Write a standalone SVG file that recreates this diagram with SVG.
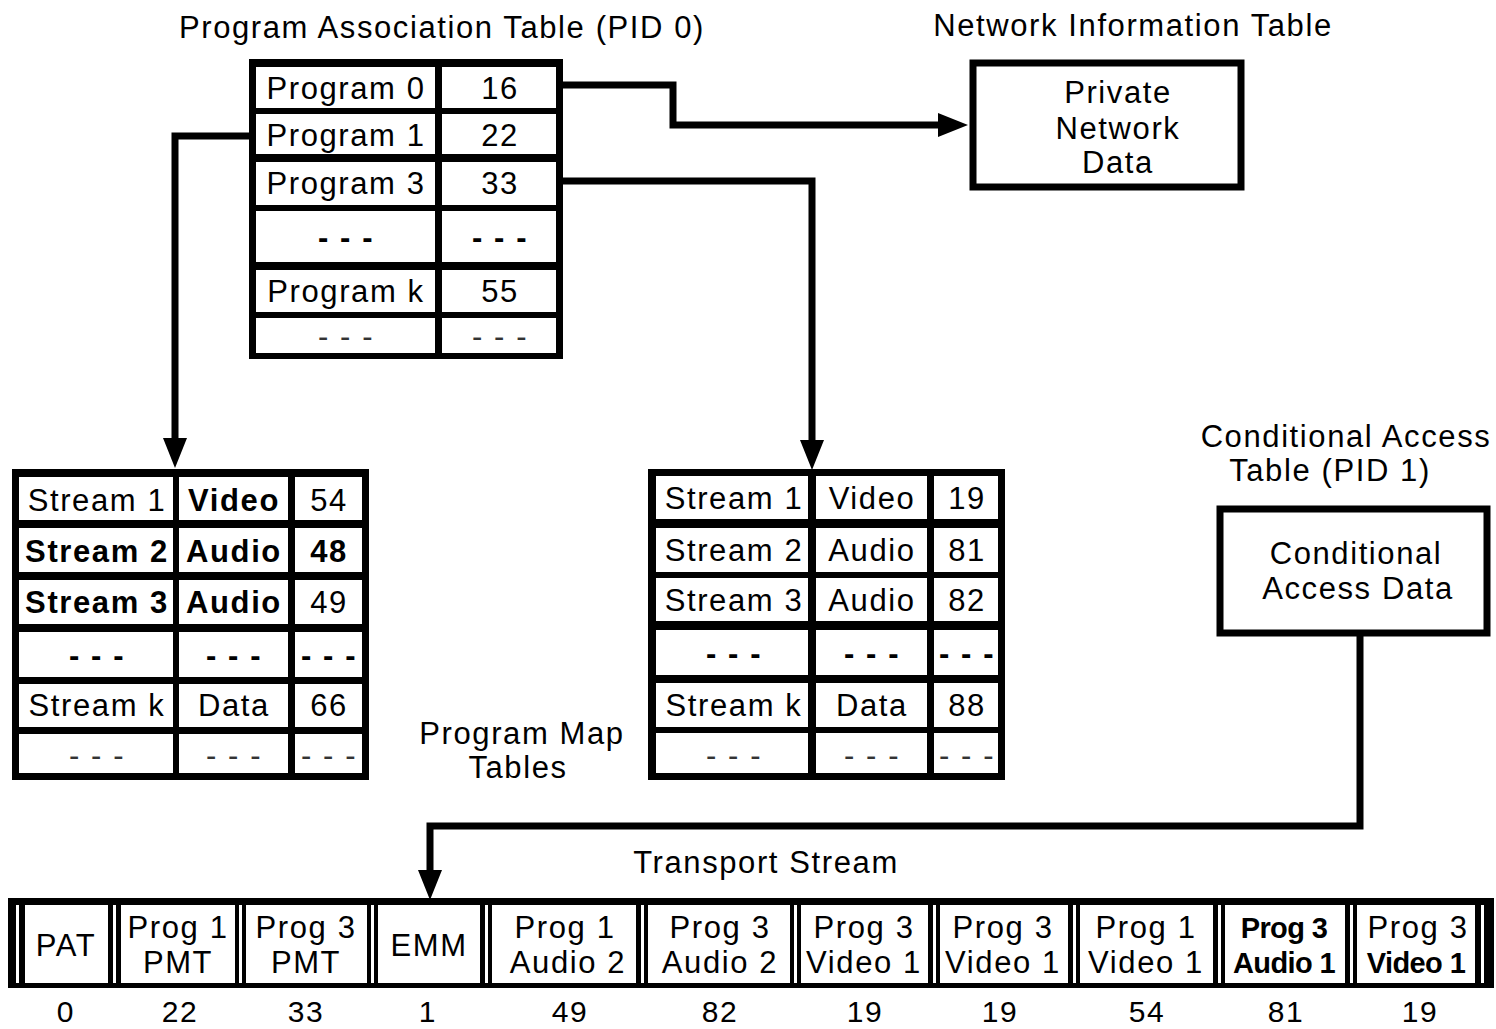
<svg xmlns="http://www.w3.org/2000/svg" width="1496" height="1029" viewBox="0 0 1496 1029">
<style>
.t{font-family:"Liberation Sans",Arial,sans-serif;font-size:31px;letter-spacing:1.6px;text-anchor:middle;fill:#000}
.b{font-weight:bold}
.bt{font-weight:bold;font-size:29px;letter-spacing:-0.6px}
.n{font-size:30px}
.d{fill:#333}
.frame{fill:#000}
.cell{fill:#fff}
.conn{fill:none;stroke:#000;stroke-width:7}
.box{fill:#fff;stroke:#000;stroke-width:7}
.sep{fill:#fff}
</style>
<defs>
<marker id="arrow" viewBox="0 -13 32 26" refX="0" refY="0" markerWidth="32" markerHeight="26" markerUnits="userSpaceOnUse" orient="auto">
<path d="M0,-12 L30,0 L0,12 z" fill="#000"/>
</marker>
</defs>
<rect width="1496" height="1029" fill="#fff"/>

<g id="labels">
<text class="t" x="442" y="38">Program Association Table (PID 0)</text>
<text class="t" x="1133" y="36">Network Information Table</text>
<text class="t" x="1346" y="447">Conditional Access</text>
<text class="t" x="1330" y="481">Table (PID 1)</text>
<text class="t" x="522" y="744">Program Map</text>
<text class="t" x="518" y="778">Tables</text>
<text class="t" x="766" y="873">Transport Stream</text>
</g>

<g id="connectors">
<path class="conn" d="M250,136 H175 V438" marker-end="url(#arrow)"/>
<path class="conn" d="M562,85 H673 V125 H938" marker-end="url(#arrow)"/>
<path class="conn" d="M562,181 H812 V440" marker-end="url(#arrow)"/>
<path class="conn" d="M1360,636 V826 H430 V870" marker-end="url(#arrow)"/>
</g>

<g id="pat">
<rect class="frame" x="249" y="59" width="314" height="300"/>
<rect class="cell" x="256" y="67" width="179" height="41"/>
<rect class="cell" x="442" y="67" width="114" height="41"/>
<rect class="cell" x="256" y="114" width="179" height="40"/>
<rect class="cell" x="442" y="114" width="114" height="40"/>
<rect class="cell" x="256" y="162" width="179" height="43"/>
<rect class="cell" x="442" y="162" width="114" height="43"/>
<rect class="cell" x="256" y="211" width="179" height="51"/>
<rect class="cell" x="442" y="211" width="114" height="51"/>
<rect class="cell" x="256" y="270" width="179" height="42"/>
<rect class="cell" x="442" y="270" width="114" height="42"/>
<rect class="cell" x="256" y="318" width="179" height="35"/>
<rect class="cell" x="442" y="318" width="114" height="35"/>
<text class="t" x="346" y="99">Program 0</text>
<text class="t" x="500" y="99">16</text>
<text class="t" x="346" y="146">Program 1</text>
<text class="t" x="500" y="146">22</text>
<text class="t" x="346" y="194">Program 3</text>
<text class="t" x="500" y="194">33</text>
<text class="t b" x="346" y="248">- - -</text>
<text class="t b" x="500" y="248">- - -</text>
<text class="t" x="346" y="302">Program k</text>
<text class="t" x="500" y="302">55</text>
<text class="t d" x="346" y="347">- - -</text>
<text class="t d" x="500" y="347">- - -</text>
</g>

<g id="nit">
<rect class="box" x="973" y="63" width="268" height="124"/>
<text class="t" x="1118" y="103">Private</text>
<text class="t" x="1118" y="139">Network</text>
<text class="t" x="1118" y="173">Data</text>
</g>

<g id="cat">
<rect class="box" x="1220" y="509" width="267" height="124"/>
<text class="t" x="1356" y="564">Conditional</text>
<text class="t" x="1358" y="599">Access Data</text>
</g>

<g id="pmt1">
<rect class="frame" x="12" y="469" width="357" height="311"/>
<rect class="cell" x="19" y="477" width="154" height="43"/>
<rect class="cell" x="179" y="477" width="109" height="43"/>
<rect class="cell" x="295" y="477" width="67" height="43"/>
<rect class="cell" x="19" y="528" width="154" height="44"/>
<rect class="cell" x="179" y="528" width="109" height="44"/>
<rect class="cell" x="295" y="528" width="67" height="44"/>
<rect class="cell" x="19" y="580" width="154" height="44"/>
<rect class="cell" x="179" y="580" width="109" height="44"/>
<rect class="cell" x="295" y="580" width="67" height="44"/>
<rect class="cell" x="19" y="632" width="154" height="45"/>
<rect class="cell" x="179" y="632" width="109" height="45"/>
<rect class="cell" x="295" y="632" width="67" height="45"/>
<rect class="cell" x="19" y="684" width="154" height="43"/>
<rect class="cell" x="179" y="684" width="109" height="43"/>
<rect class="cell" x="295" y="684" width="67" height="43"/>
<rect class="cell" x="19" y="734" width="154" height="39"/>
<rect class="cell" x="179" y="734" width="109" height="39"/>
<rect class="cell" x="295" y="734" width="67" height="39"/>
<text class="t" x="97" y="511">Stream 1</text>
<text class="t b" x="234" y="511">Video</text>
<text class="t" x="329" y="511">54</text>
<text class="t b" x="97" y="562">Stream 2</text>
<text class="t b" x="234" y="562">Audio</text>
<text class="t b" x="329" y="562">48</text>
<text class="t b" x="97" y="613">Stream 3</text>
<text class="t b" x="234" y="613">Audio</text>
<text class="t" x="329" y="613">49</text>
<text class="t b" x="97" y="666">- - -</text>
<text class="t b" x="234" y="666">- - -</text>
<text class="t b" x="329" y="666">- - -</text>
<text class="t" x="97" y="716">Stream k</text>
<text class="t" x="234" y="716">Data</text>
<text class="t" x="329" y="716">66</text>
<text class="t d" x="97" y="766">- - -</text>
<text class="t d" x="234" y="766">- - -</text>
<text class="t d" x="329" y="766">- - -</text>
</g>

<g id="pmt3">
<rect class="frame" x="648" y="469" width="357" height="311"/>
<rect class="cell" x="656" y="476" width="152" height="43"/>
<rect class="cell" x="816" y="476" width="111" height="43"/>
<rect class="cell" x="934" y="476" width="64" height="43"/>
<rect class="cell" x="656" y="528" width="152" height="44"/>
<rect class="cell" x="816" y="528" width="111" height="44"/>
<rect class="cell" x="934" y="528" width="64" height="44"/>
<rect class="cell" x="656" y="578" width="152" height="43"/>
<rect class="cell" x="816" y="578" width="111" height="43"/>
<rect class="cell" x="934" y="578" width="64" height="43"/>
<rect class="cell" x="656" y="630" width="152" height="45"/>
<rect class="cell" x="816" y="630" width="111" height="45"/>
<rect class="cell" x="934" y="630" width="64" height="45"/>
<rect class="cell" x="656" y="683" width="152" height="44"/>
<rect class="cell" x="816" y="683" width="111" height="44"/>
<rect class="cell" x="934" y="683" width="64" height="44"/>
<rect class="cell" x="656" y="733" width="152" height="40"/>
<rect class="cell" x="816" y="733" width="111" height="40"/>
<rect class="cell" x="934" y="733" width="64" height="40"/>
<text class="t" x="734" y="509">Stream 1</text>
<text class="t" x="872" y="509">Video</text>
<text class="t" x="967" y="509">19</text>
<text class="t" x="734" y="561">Stream 2</text>
<text class="t" x="872" y="561">Audio</text>
<text class="t" x="967" y="561">81</text>
<text class="t" x="734" y="611">Stream 3</text>
<text class="t" x="872" y="611">Audio</text>
<text class="t" x="967" y="611">82</text>
<text class="t b" x="734" y="664">- - -</text>
<text class="t b" x="872" y="664">- - -</text>
<text class="t b" x="967" y="664">- - -</text>
<text class="t" x="734" y="716">Stream k</text>
<text class="t" x="872" y="716">Data</text>
<text class="t" x="967" y="716">88</text>
<text class="t d" x="734" y="766">- - -</text>
<text class="t d" x="872" y="766">- - -</text>
<text class="t d" x="967" y="766">- - -</text>
</g>

<g id="transport-stream">
<rect class="frame" x="8" y="898" width="1486" height="90"/>
<rect class="sep" x="16" y="905" width="3" height="78"/>
<rect class="sep" x="113" y="905" width="3" height="78"/>
<rect class="sep" x="239" y="905" width="3" height="78"/>
<rect class="sep" x="371" y="905" width="3" height="78"/>
<rect class="sep" x="485" y="905" width="3" height="78"/>
<rect class="sep" x="641" y="905" width="3" height="78"/>
<rect class="sep" x="794" y="905" width="3" height="78"/>
<rect class="sep" x="933" y="905" width="3" height="78"/>
<rect class="sep" x="1073" y="905" width="3" height="78"/>
<rect class="sep" x="1218" y="905" width="3" height="78"/>
<rect class="sep" x="1350" y="905" width="3" height="78"/>
<rect class="sep" x="1481" y="905" width="3" height="78"/>
<rect class="cell" x="25" y="905" width="83" height="78"/>
<rect class="cell" x="121" y="905" width="114" height="78"/>
<rect class="cell" x="246" y="905" width="121" height="78"/>
<rect class="cell" x="378" y="905" width="102" height="78"/>
<rect class="cell" x="492" y="905" width="144" height="78"/>
<rect class="cell" x="648" y="905" width="142" height="78"/>
<rect class="cell" x="801" y="905" width="127" height="78"/>
<rect class="cell" x="940" y="905" width="128" height="78"/>
<rect class="cell" x="1080" y="905" width="133" height="78"/>
<rect class="cell" x="1225" y="905" width="120" height="78"/>
<rect class="cell" x="1357" y="905" width="118" height="78"/>
<text class="t" x="66" y="956">PAT</text>
<text class="t" x="178" y="938">Prog 1</text>
<text class="t" x="178" y="973">PMT</text>
<text class="t" x="306" y="938">Prog 3</text>
<text class="t" x="306" y="973">PMT</text>
<text class="t" x="429" y="956">EMM</text>
<text class="t" x="565" y="938">Prog 1</text>
<text class="t" x="568" y="973">Audio 2</text>
<text class="t" x="720" y="938">Prog 3</text>
<text class="t" x="720" y="973">Audio 2</text>
<text class="t" x="864" y="938">Prog 3</text>
<text class="t" x="864" y="973">Video 1</text>
<text class="t" x="1003" y="938">Prog 3</text>
<text class="t" x="1003" y="973">Video 1</text>
<text class="t" x="1146" y="938">Prog 1</text>
<text class="t" x="1146" y="973">Video 1</text>
<text class="t bt" x="1284" y="938">Prog 3</text>
<text class="t bt" x="1284" y="973">Audio 1</text>
<text class="t" x="1418" y="938">Prog 3</text>
<text class="t bt" x="1416" y="973">Video 1</text>
<text class="t n" x="66" y="1022">0</text>
<text class="t n" x="180" y="1022">22</text>
<text class="t n" x="306" y="1022">33</text>
<text class="t n" x="428" y="1022">1</text>
<text class="t n" x="570" y="1022">49</text>
<text class="t n" x="720" y="1022">82</text>
<text class="t n" x="865" y="1022">19</text>
<text class="t n" x="1000" y="1022">19</text>
<text class="t n" x="1147" y="1022">54</text>
<text class="t n" x="1286" y="1022">81</text>
<text class="t n" x="1420" y="1022">19</text>
</g>
</svg>
